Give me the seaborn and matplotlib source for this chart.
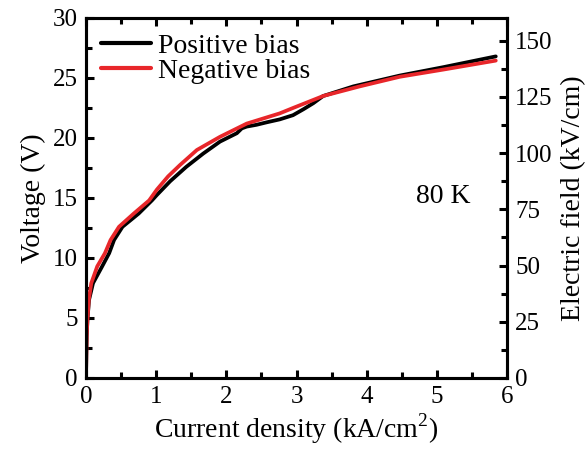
import numpy as np
import pandas as pd
import matplotlib
matplotlib.use("Agg")
import matplotlib.pyplot as plt
from matplotlib.ticker import MultipleLocator
import seaborn as sns

# Data
pos_x = [0, 0.005, 0.01, 0.02, 0.043, 0.10, 0.23, 0.33, 0.40, 0.52, 0.75, 0.94, 1.01, 1.2,
         1.43, 1.67, 1.91, 2.15, 2.22, 2.29, 2.43, 2.57, 2.76, 2.95, 3.1, 3.24, 3.38, 3.81,
         4.47, 5.09, 5.84]
pos_v = [0, 2.0, 3.5, 4.8, 6.5, 7.9, 9.3, 10.4, 11.5, 12.6, 13.7, 14.8, 15.25, 16.4,
         17.6, 18.7, 19.7, 20.4, 20.8, 20.95, 21.1, 21.3, 21.55, 21.9, 22.4, 22.9, 23.5, 24.3,
         25.2, 25.9, 26.8]
neg_x = [0, 0.005, 0.01, 0.02, 0.04, 0.075, 0.16, 0.27, 0.35, 0.47, 0.68, 0.9, 1.01, 1.17,
         1.34, 1.58, 1.91, 2.29, 2.76, 2.95, 3.38, 3.9, 4.47, 5.09, 5.84]
neg_v = [0, 2.0, 3.5, 4.8, 6.5, 7.9, 9.3, 10.4, 11.5, 12.6, 13.7, 14.8, 15.7, 16.8,
         17.75, 19.0, 20.1, 21.2, 22.05, 22.5, 23.5, 24.3, 25.1, 25.7, 26.45]
series_names = ["Positive bias", "Negative bias"]
series_colors = ["#000000", "#e8262a"]
x_ticks = [0, 1, 2, 3, 4, 5, 6]
v_ticks = [0, 5, 10, 15, 20, 25, 30]
e_ticks = [0, 25, 50, 75, 100, 125, 150]
annotation = "80 K"

df = pd.concat([
    pd.DataFrame({"J": pos_x, "V": pos_v, "bias": series_names[0]}),
    pd.DataFrame({"J": neg_x, "V": neg_v, "bias": series_names[1]}),
], ignore_index=True)

sns.set_theme(style="ticks")
plt.rcParams["font.family"] = ["Liberation Serif", "DejaVu Serif"]
plt.rcParams["mathtext.fontset"] = "custom"
plt.rcParams["mathtext.rm"] = "Liberation Serif"
for k in ["text.color", "axes.labelcolor", "xtick.color", "ytick.color", "axes.edgecolor"]:
    plt.rcParams[k] = "black"

fig = plt.figure(figsize=(5.86, 4.51), dpi=100)
ax = fig.add_axes([86/586, 1-378/451, (507-86)/586, (378-18)/451])

sns.lineplot(data=df, x="J", y="V", hue="bias", palette=dict(zip(series_names, series_colors)),
             estimator=None, sort=False, linewidth=2.7, ax=ax)

ax.set_xlim(0, 6)
ax.set_ylim(0, 30)
ax.set_xticks(x_ticks)
ax.set_yticks(v_ticks)
ax.xaxis.set_minor_locator(MultipleLocator(0.5))
ax.yaxis.set_minor_locator(MultipleLocator(2.5))
fs = 18
fl = 20
ax.tick_params(which="both", direction="in", top=True, right=False, width=2.2, labelsize=fs, pad=6)
ax.tick_params(which="major", length=6)
ax.tick_params(which="minor", length=4)
ax.set_xlabel("Current density (kA/cm$^2$)", fontsize=fl, labelpad=2)
ax.set_ylabel("Voltage (V)", fontsize=fl, labelpad=5)
for s in ax.spines.values():
    s.set_linewidth(2.2)
    s.set_color("black")

ax2 = ax.twinx()
ax2.set_ylim(0, 160)
ax2.set_yticks(e_ticks)
ax2.yaxis.set_minor_locator(MultipleLocator(12.5))
ax2.tick_params(which="both", direction="in", width=2.2, labelsize=fs, pad=6)
ax2.tick_params(which="major", length=6)
ax2.tick_params(which="minor", length=4)
ax2.set_ylabel("Electric field (kV/cm)", fontsize=fl, labelpad=6)
for s in ax2.spines.values():
    s.set_linewidth(2.2)
    s.set_color("black")

ax.text(5.09, 15.1, annotation, fontsize=fl, ha="center", va="center")

leg = ax.legend(loc="upper left", frameon=False, fontsize=fl, handlelength=1.8,
                handletextpad=0.25, labelspacing=0.0, borderaxespad=0.35, borderpad=0.2)
for h in leg.get_lines():
    h.set_linewidth(3)

fig.savefig("out.png", dpi=100)
